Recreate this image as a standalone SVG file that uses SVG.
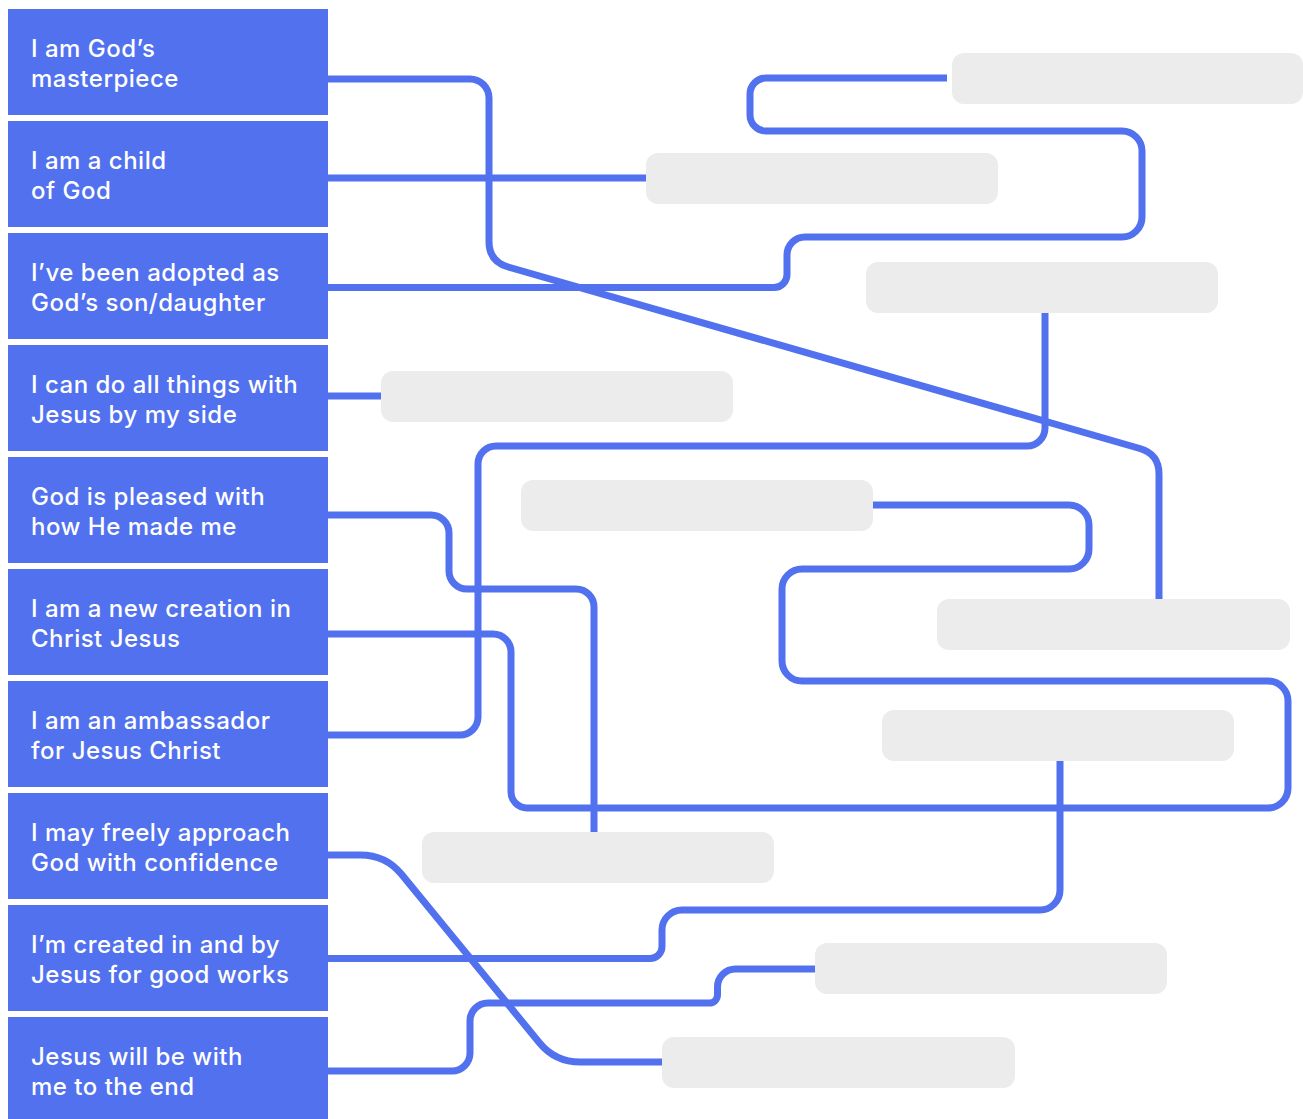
<svg xmlns="http://www.w3.org/2000/svg" width="1303" height="1119" viewBox="0 0 1303 1119">
<style>
.node rect.b{fill:#5271EF}
.node text{fill:#FFFFFF;font-family:Inter,"Noto Sans","Liberation Sans",sans-serif;font-weight:500;font-size:24px;letter-spacing:0.5px}
.ans rect{fill:#ECECEC}
.conn path{fill:none;stroke:#5271EF;stroke-width:7}
</style>
<rect width="1303" height="1119" fill="#FFFFFF"/>
<g id="answers" class="ans">
<g id="a1"><rect x="952" y="53" width="351" height="51" rx="12"/></g>
<g id="a2"><rect x="646" y="153" width="352" height="51" rx="12"/></g>
<g id="a3"><rect x="866" y="262" width="352" height="51" rx="12"/></g>
<g id="a4"><rect x="381" y="371" width="352" height="51" rx="12"/></g>
<g id="a5"><rect x="521" y="480" width="352" height="51" rx="12"/></g>
<g id="a6"><rect x="937" y="599" width="353" height="51" rx="12"/></g>
<g id="a7"><rect x="882" y="710" width="352" height="51" rx="12"/></g>
<g id="a8"><rect x="422" y="832" width="352" height="51" rx="12"/></g>
<g id="a9"><rect x="815" y="943" width="352" height="51" rx="12"/></g>
<g id="a10"><rect x="662" y="1037" width="353" height="51" rx="12"/></g>
</g>
<g id="connectors" class="conn">
<path d="M328 79 H470 A19 19 0 0 1 489 98 V241.5 Q489 261.5 508.2 267 L1139.8 448.5 Q1159 454 1159 474 V599"/>
<path d="M328 178 H646"/>
<path d="M328 287.5 H774 A13 13 0 0 0 787 274.5 V255 A18 18 0 0 1 805 237 H1122 A20 20 0 0 0 1142 217 V151 A20 20 0 0 0 1122 131 H766 A16 16 0 0 1 750 115 V94 A16 16 0 0 1 766 78 H947"/>
<path d="M328 396 H381"/>
<path d="M328 515 H431 A18 18 0 0 1 449 533 V571 A18 18 0 0 0 467 589 H576 A18 18 0 0 1 594 607 V832"/>
<path d="M328 634 H493 A18 18 0 0 1 511 652 V792 A16 16 0 0 0 527 808 H1268 A20 20 0 0 0 1288 788 V701 A20 20 0 0 0 1268 681 H802 A20 20 0 0 1 782 661 V589 A20 20 0 0 1 802 569 H1069 A20 20 0 0 0 1089 549 V525 A20 20 0 0 0 1069 505 H873"/>
<path d="M328 735 H460 A18 18 0 0 0 478 717 V464 A18 18 0 0 1 496 446 H1027 A18 18 0 0 0 1045 428 V313"/>
<path d="M328 855 H360.6 Q385.6 855 401.5 874.3 L539.4 1042.7 Q555.2 1062 580.2 1062 H662"/>
<path d="M328 958.5 H650 A12 12 0 0 0 662 946.5 V930 A20 20 0 0 1 682 910 H1040 A20 20 0 0 0 1060 890 V761"/>
<path d="M328 1071 H452 A18 18 0 0 0 470 1053 V1021 A18 18 0 0 1 488 1003 H709.5 A8 8 0 0 0 717.5 995 V987 A18 18 0 0 1 735.5 969 H815"/>
</g>
<g id="n1" class="node"><rect class="b" x="8" y="9" width="320" height="106"/><text x="31" y="57">I am God’s</text><text x="31" y="87">masterpiece</text></g>
<g id="n2" class="node"><rect class="b" x="8" y="121" width="320" height="106"/><text x="31" y="169">I am a child</text><text x="31" y="199">of God</text></g>
<g id="n3" class="node"><rect class="b" x="8" y="233" width="320" height="106"/><text x="31" y="281">I’ve been adopted as</text><text x="31" y="311">God’s son/daughter</text></g>
<g id="n4" class="node"><rect class="b" x="8" y="345" width="320" height="106"/><text x="31" y="393">I can do all things with</text><text x="31" y="423">Jesus by my side</text></g>
<g id="n5" class="node"><rect class="b" x="8" y="457" width="320" height="106"/><text x="31" y="505">God is pleased with</text><text x="31" y="535">how He made me</text></g>
<g id="n6" class="node"><rect class="b" x="8" y="569" width="320" height="106"/><text x="31" y="617">I am a new creation in</text><text x="31" y="647">Christ Jesus</text></g>
<g id="n7" class="node"><rect class="b" x="8" y="681" width="320" height="106"/><text x="31" y="729">I am an ambassador</text><text x="31" y="759">for Jesus Christ</text></g>
<g id="n8" class="node"><rect class="b" x="8" y="793" width="320" height="106"/><text x="31" y="841">I may freely approach</text><text x="31" y="871">God with confidence</text></g>
<g id="n9" class="node"><rect class="b" x="8" y="905" width="320" height="106"/><text x="31" y="953">I’m created in and by</text><text x="31" y="983">Jesus for good works</text></g>
<g id="n10" class="node"><rect class="b" x="8" y="1017" width="320" height="106"/><text x="31" y="1065">Jesus will be with</text><text x="31" y="1095">me to the end</text></g>
</svg>
